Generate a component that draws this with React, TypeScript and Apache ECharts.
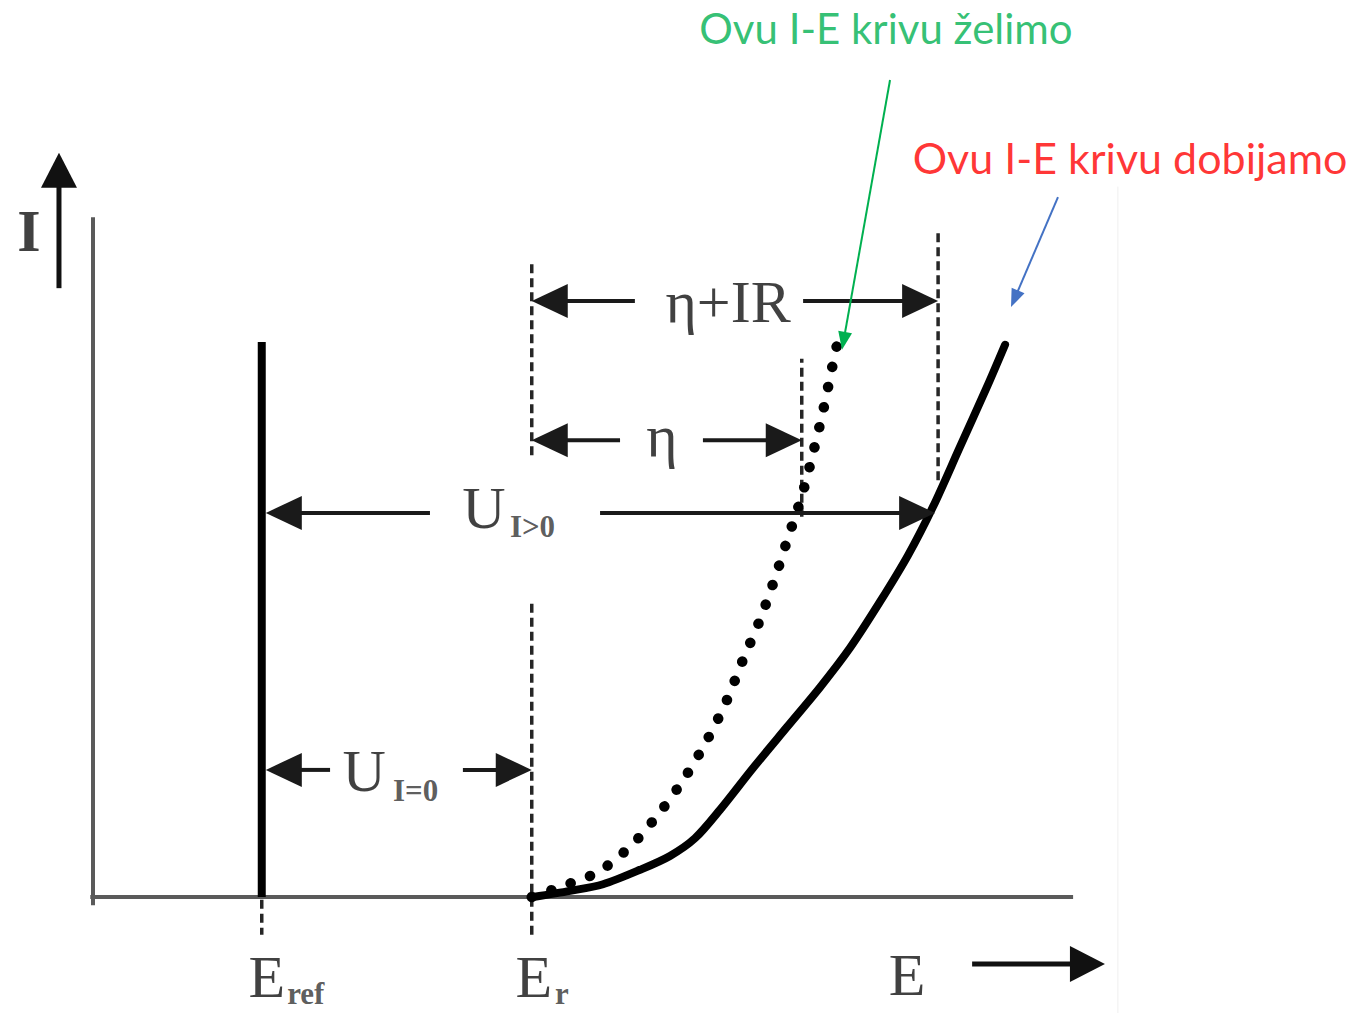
import React, { useEffect, useRef } from "react";
import * as echarts from "echarts";

const WIDTH = 1365;
const HEIGHT = 1013;

// Plot scale: pixel position of the axes origin and pixels per unit of E and I
const ORIGIN_PX = [93, 897];
const PX_PER_E = 27;
const PX_PER_I = 5.55;

// Characteristic potentials (arbitrary units) and current range
const E_REF = 6.25;
const E_R = 16.25;
const E_ETA = 26.25;
const E_IR = 31.3;
const I_TOP = 100;

// Levels of the dimension arrows
const I_ARROW_IR = 107.4;
const I_ARROW_ETA = 82.3;
const I_ARROW_U_GT = 69.2;
const I_ARROW_U_EQ = 22.9;

// Measured curve (includes the IR drop)
const measuredE = [16.3, 17.67, 18.89, 20.26, 21.37, 22.3, 23.22, 24.44, 25.7, 26.93, 28.04, 29.15, 30.19, 31.11, 32.11, 33.11, 33.78];
const measuredI = [0, 1.1, 2.3, 4.9, 7.4, 10.6, 15.7, 23.2, 30.6, 37.8, 44.9, 53.2, 61.6, 70.3, 81.1, 91.9, 99.5];

// Desired curve (no IR drop)
const idealE = [16.25, 17.19, 18.7, 19.96, 21.0, 21.93, 22.78, 23.48, 24.07, 24.7, 25.26, 25.74, 26.26, 26.67, 27.04, 27.37, 27.6];
const idealI = [0, 1.6, 4.5, 9.4, 15.3, 21.6, 28.6, 35.5, 42.7, 49.9, 57.5, 64.7, 72.4, 80.0, 87.6, 95.3, 100.5];

// Vertical dashed guides: [E, I from, I to]
const guides = [
  [E_R, 79.6, 114.2],
  [E_R, -6.8, 53.2],
  [E_ETA, 68.5, 97.0],
  [E_IR, 75.1, 119.8],
  [E_REF, -0.5, -6.8],
];

// Dimension arrows: [E tail, I tail, E tip, I tip]
const dimensionArrows = [
  [20.07, I_ARROW_IR, E_R, I_ARROW_IR],
  [26.3, I_ARROW_IR, E_IR, I_ARROW_IR],
  [19.52, I_ARROW_ETA, E_R, I_ARROW_ETA],
  [22.59, I_ARROW_ETA, E_ETA, I_ARROW_ETA],
  [12.48, I_ARROW_U_GT, 6.4, I_ARROW_U_GT],
  [18.78, I_ARROW_U_GT, 31.19, I_ARROW_U_GT],
  [8.78, I_ARROW_U_EQ, 6.4, I_ARROW_U_EQ],
  [13.7, I_ARROW_U_EQ, E_R, I_ARROW_U_EQ],
];
const axisArrows = [
  [-1.26, 109.7, -1.26, 134.1],
  [32.56, -12.07, 37.48, -12.07],
];
const wantedPointer = [[29.52, 147.2, 27.74, 98.6]];
const obtainedPointer = [[35.74, 126.1, 34.0, 106.3]];

// Text labels: [E, I, text]
const serifLabels = [
  [30.15, -14.05, "E"],
  [6.44, -14.4, "E"],
  [16.33, -14.4, "E"],
  [23.52, 107.2, "η+IR"],
  [21.07, 83.06, "η"],
  [14.48, 70.1, "U"],
  [10.04, 22.7, "U"],
];
const currentLabel = [[-2.37, 120.0, "I"]];
const subscriptLabels = [
  [7.19, -17.3, "ref"],
  [17.11, -17.3, "r"],
  [15.44, 66.7, "I>0"],
  [11.11, 19.1, "I=0"],
];
const captionWanted = "Ovu I-E krivu želimo";
const captionObtained = "Ovu I-E krivu dobijamo";
const captionWantedAt = [29.37, 156.6];
const captionObtainedAt = [38.41, 133.2];

const SERIF = "'Liberation Serif', 'DejaVu Serif', serif";
const CAPTION_FONT = "Lato, 'Open Sans', sans-serif";
const INK = "#111";

const zip = (xs: number[], ys: number[]) => xs.map((x, i) => [x, ys[i]]);

function segment(data: number[][], color: string, width: number, type: any = "solid", z = 2) {
  return {
    type: "line",
    data,
    symbol: "none",
    silent: true,
    z,
    lineStyle: { color, width, type, cap: "butt" },
  };
}

function arrowSeries(rows: number[][], color: string, lineWidth: number, headLen: number, headWidth: number) {
  return {
    type: "custom",
    data: rows,
    silent: true,
    z: 5,
    encode: { x: [0, 2], y: [1, 3] },
    renderItem: (_params: any, api: any) => {
      const tail = api.coord([api.value(0), api.value(1)]);
      const tip = api.coord([api.value(2), api.value(3)]);
      const dx = tip[0] - tail[0];
      const dy = tip[1] - tail[1];
      const len = Math.hypot(dx, dy) || 1;
      const ux = dx / len;
      const uy = dy / len;
      const bx = tip[0] - ux * headLen;
      const by = tip[1] - uy * headLen;
      const nx = -uy * (headWidth / 2);
      const ny = ux * (headWidth / 2);
      return {
        type: "group",
        children: [
          {
            type: "line",
            shape: { x1: tail[0], y1: tail[1], x2: bx + ux * 2, y2: by + uy * 2 },
            style: { stroke: color, lineWidth },
          },
          {
            type: "polygon",
            shape: { points: [tip, [bx + nx, by + ny], [bx - nx, by - ny]] },
            style: { fill: color },
          },
        ],
      };
    },
  };
}

function labelSeries(rows: any[], style: any, align = "center") {
  return {
    type: "scatter",
    symbolSize: 0,
    silent: true,
    z: 6,
    data: rows.map((r) => ({
      value: [r[0], r[1]],
      label: { formatter: r[2] },
    })),
    label: {
      show: true,
      position: "inside",
      align,
      verticalAlign: "middle",
      ...style,
    },
  };
}

export default function App() {
  const ref = useRef<HTMLDivElement>(null);

  useEffect(() => {
    document.body.style.margin = "0";
    if (!ref.current) return;
    const chart = echarts.init(ref.current, null, { renderer: "svg" });

    const series: any[] = [
      // faint edge of the pasted figure
      segment([[37.96, 128], [37.96, -21]], "#efefef", 1, "solid", 1),
      // axes
      segment([[0, -1.5], [0, 122.5]], "#5a5a5a", 4),
      segment([[-0.1, 0], [36.3, 0]], "#5a5a5a", 4),
      // reference electrode line
      segment([[E_REF, 0], [E_REF, I_TOP]], "#000", 8, "solid", 3),
      ...guides.map((g) => segment([[g[0], g[1]], [g[0], g[2]]], "#262626", 3.5, [9, 5])),
      {
        type: "line",
        data: zip(measuredE, measuredI),
        symbol: "none",
        smooth: 0.3,
        silent: true,
        z: 4,
        lineStyle: { color: "#000", width: 8, cap: "round", join: "round" },
      },
      {
        type: "line",
        data: zip(idealE, idealI),
        symbol: "none",
        smooth: 0.3,
        silent: true,
        z: 4,
        lineStyle: { color: "#000", width: 10.5, type: [0.1, 20.5], cap: "round" },
      },
      arrowSeries(dimensionArrows, "#1a1a1a", 4, 36, 34),
      arrowSeries(axisArrows, "#111", 5, 35, 36),
      arrowSeries(wantedPointer, "#00B050", 2, 18, 14),
      arrowSeries(obtainedPointer, "#4472C4", 2, 18, 14),
      labelSeries(serifLabels, { fontFamily: SERIF, fontSize: 60, color: INK }),
      labelSeries(currentLabel, { fontFamily: SERIF, fontSize: 60, fontWeight: "bold", color: INK }),
      labelSeries(subscriptLabels, { fontFamily: SERIF, fontSize: 31, fontWeight: "bold", color: "#333" }, "left"),
      labelSeries([[captionWantedAt[0], captionWantedAt[1], captionWanted]], {
        fontFamily: CAPTION_FONT,
        fontSize: 42,
        color: "#00B050",
      }),
      labelSeries([[captionObtainedAt[0], captionObtainedAt[1], captionObtained]], {
        fontFamily: CAPTION_FONT,
        fontSize: 43,
        color: "#FF0000",
      }),
    ];

    chart.setOption({
      animation: false,
      backgroundColor: "#fff",
      grid: { left: 0, right: 0, top: 0, bottom: 0, containLabel: false },
      xAxis: {
        type: "value",
        min: -ORIGIN_PX[0] / PX_PER_E,
        max: (WIDTH - ORIGIN_PX[0]) / PX_PER_E,
        show: false,
      },
      yAxis: {
        type: "value",
        min: -(HEIGHT - ORIGIN_PX[1]) / PX_PER_I,
        max: ORIGIN_PX[1] / PX_PER_I,
        show: false,
      },
      series,
    });

    return () => chart.dispose();
  }, []);

  return <div ref={ref} style={{ width: WIDTH, height: HEIGHT }} />;
}
